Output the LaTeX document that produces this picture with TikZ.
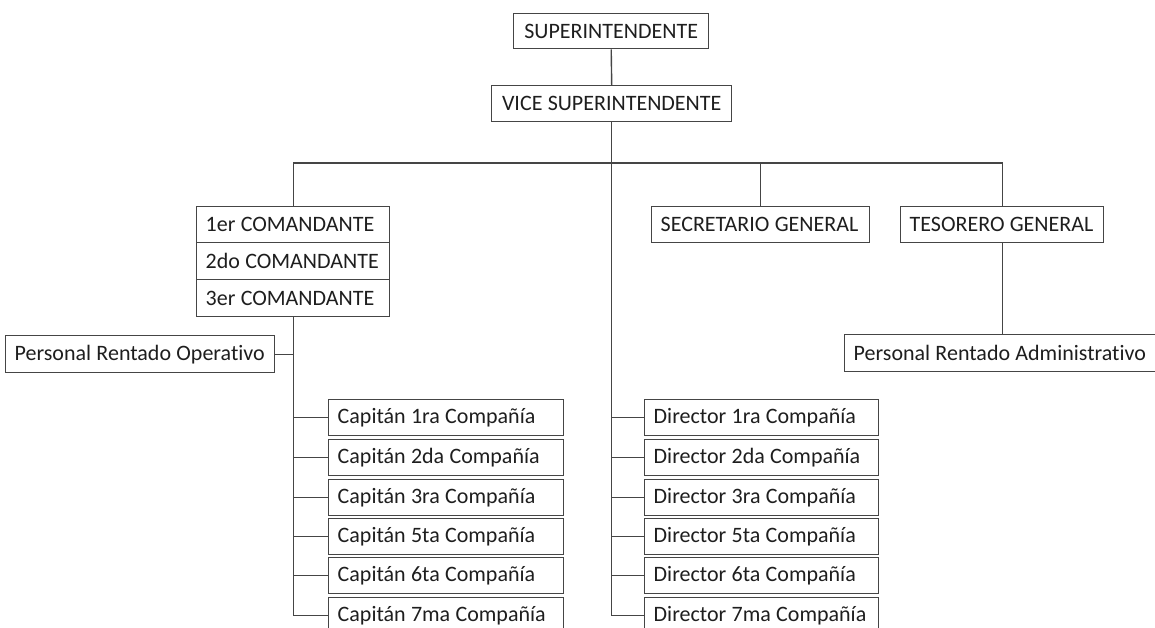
\documentclass[tikz,border=0pt]{standalone}
\usepackage{fontspec}
\setmainfont{Carlito}[Ligatures=NoCommon]
\definecolor{linec}{HTML}{454545}
\definecolor{textc}{HTML}{1E1E1E}
\newlength{\wsp}
\newcommand{\bt}[2]{\setlength{\wsp}{0.24em}\spaceskip=\wsp\makebox[#1][l]{#2}}
\newcommand{\ct}[2]{\setlength{\wsp}{0.24em}\spaceskip=\wsp\makebox[#1][c]{#2}}
\begin{document}
\begin{tikzpicture}[x=1pt,y=-1pt,
  bx/.style={draw=linec, line width=1.4pt, rectangle, anchor=north west,
    inner xsep=9pt, inner ysep=0pt, text=textc,
    font=\fontsize{22}{24}\selectfont},
  ln/.style={draw=linec, line width=1.4pt}]
\useasboundingbox (0,0) rectangle (1155,628);
\clip (0,0) rectangle (1155,628);
% top
\node[bx, minimum height=35pt] (sup) at (513,13) {\ct{177pt}{SUPERINTENDENTE}};
\node[bx, minimum height=36pt] (vice) at (491,85) {\ct{222pt}{VICE SUPERINTENDENTE}};
\coordinate (bus) at (0,163);
% commandants
\node[bx, minimum height=36pt] (c1) at (196,206) {\bt{175pt}{1er COMANDANTE}};
\node[bx, minimum height=37pt] (c2) at (196,242) {\bt{175pt}{2do COMANDANTE}};
\node[bx, minimum height=37pt] (c3) at (196,279) {\bt{175pt}{3er COMANDANTE}};
\node[bx, minimum height=36pt] (sec) at (651,206) {\bt{200pt}{SECRETARIO GENERAL}};
\node[bx, minimum height=36pt] (tes) at (900,206) {\bt{185pt}{TESORERO GENERAL}};
\node[bx, minimum height=37pt] (pro) at (5,335) {\bt{251pt}{Personal Rentado Operativo}};
\node[bx, minimum height=37pt] (adm) at (844,334) {\bt{295pt}{Personal Rentado Administrativo}};
% capitanes
\node[bx, minimum height=36pt] (k1) at (328,399) {\bt{217pt}{Capitán 1ra Compañía}};
\node[bx, minimum height=36pt] (k2) at (328,439) {\bt{217pt}{Capitán 2da Compañía}};
\node[bx, minimum height=36pt] (k3) at (328,479) {\bt{217pt}{Capitán 3ra Compañía}};
\node[bx, minimum height=36pt] (k4) at (328,518) {\bt{217pt}{Capitán 5ta Compañía}};
\node[bx, minimum height=36pt] (k5) at (328,557) {\bt{217pt}{Capitán 6ta Compañía}};
\node[bx, minimum height=36pt] (k6) at (328,597) {\bt{217pt}{Capitán 7ma Compañía}};
% directores
\node[bx, minimum height=36pt] (d1) at (644,399) {\bt{216pt}{Director 1ra Compañía}};
\node[bx, minimum height=36pt] (d2) at (644,439) {\bt{216pt}{Director 2da Compañía}};
\node[bx, minimum height=36pt] (d3) at (644,479) {\bt{216pt}{Director 3ra Compañía}};
\node[bx, minimum height=36pt] (d4) at (644,518) {\bt{216pt}{Director 5ta Compañía}};
\node[bx, minimum height=36pt] (d5) at (644,557) {\bt{216pt}{Director 6ta Compañía}};
\node[bx, minimum height=36pt] (d6) at (644,597) {\bt{216pt}{Director 7ma Compañía}};
% connectors
\draw[ln] (sup.south) -- (vice.north);
\draw[ln] (vice.south) -- (vice.south |- d6.west) -- (d6.west);
\draw[ln] (c1.north) -- (c1.north |- bus) -- (tes.north |- bus) -- (tes.north);
\draw[ln] (sec.north) -- (sec.north |- bus);
\draw[ln] (tes.south) -- (tes.south |- adm.north);
\draw[ln] (c3.south) -- (c3.south |- k6.west) -- (k6.west);
\draw[ln] (pro.east) -- (pro.east -| c3.south);
\foreach \k in {k1,k2,k3,k4,k5}{\draw[ln] (c3.south |- \k.west) -- (\k.west);}
\foreach \d in {d1,d2,d3,d4,d5}{\draw[ln] (vice.south |- \d.west) -- (\d.west);}
\end{tikzpicture}
\end{document}
